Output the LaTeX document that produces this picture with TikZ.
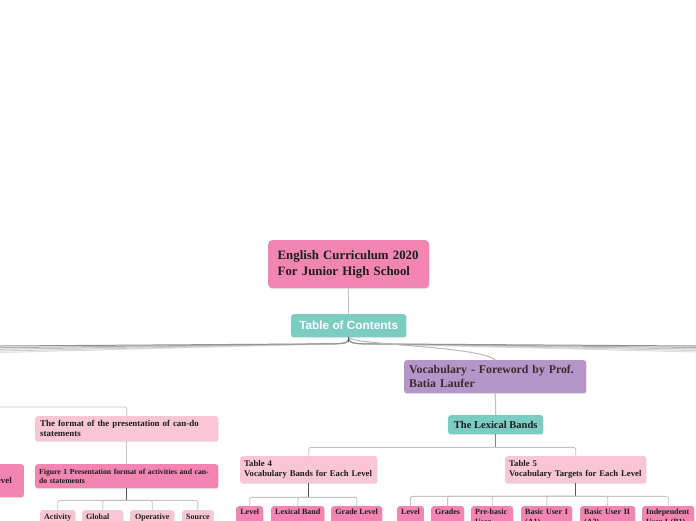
\documentclass[tikz,border=0pt]{standalone}
\usepackage{fontspec}
\setmainfont{Liberation Serif}
\newfontfamily\tocfont{Liberation Sans}
\usetikzlibrary{shadows}
\definecolor{dpink}{RGB}{243,134,177}
\definecolor{lpink}{RGB}{249,198,211}
\definecolor{tealc}{RGB}{122,205,192}
\definecolor{purp}{RGB}{180,151,200}
\definecolor{vtext}{RGB}{64,38,46}
\definecolor{lgray}{RGB}{196,196,196}
\definecolor{dgray}{RGB}{85,85,85}
\definecolor{txt}{RGB}{28,28,28}
\tikzset{
  box/.style={anchor=north west, rounded corners=2.5pt, inner ysep=0pt, inner xsep=5pt,
    align=left, text=txt, font=\bfseries,
    drop shadow={shadow xshift=0.3pt, shadow yshift=-1pt, opacity=0.18}},
  kid/.style={box, inner xsep=4pt, inner ysep=3pt, text depth=16pt,
    font=\fontsize{8}{9.5}\selectfont\bfseries},
  fkid/.style={kid, inner ysep=4pt, fill=lpink},
  tkid/.style={kid, fill=dpink},
  conn/.style={draw=lgray, line width=0.9pt, rounded corners=1.5pt},
  stem/.style={draw=dgray, line width=1.3pt},
  fan/.style={line width=1pt}
}
\begin{document}
\begin{tikzpicture}[x=1pt,y=-1pt]
\useasboundingbox (0,0) rectangle (696,520);
\clip (0,0) rectangle (696,520);
\fill[white] (0,0) rectangle (696,520);

% free ends
\coordinate (L1) at (0,352.5);
\coordinate (L2) at (0,351);
\coordinate (L3) at (0,349.3);
\coordinate (L4) at (0,347.7);
\coordinate (L5) at (0,346);
\coordinate (R1) at (696,352);
\coordinate (R2) at (696,350.5);
\coordinate (R3) at (696,349);
\coordinate (R4) at (696,347.5);
\coordinate (R5) at (696,346);
\coordinate (Lf) at (0,407);

% nodes
\node[box, fill=dpink, inner xsep=9.5pt, text width=142pt, minimum height=48pt,
  rounded corners=4pt, font=\fontsize{12.8}{16}\selectfont\bfseries] (root) at (268,240)
  {English Curriculum 2020\\For Junior High School};
\node[box, fill=tealc, align=center, minimum width=115pt, minimum height=23pt, text=white,
  font=\tocfont\fontsize{11.8}{13}\selectfont\bfseries] (toc) at (291,314) {Table of Contents};
\node[box, fill=purp, text=vtext, text width=172pt, minimum height=33pt,
  font=\fontsize{11.8}{14}\selectfont\bfseries] (voc) at (404,360)
  {Vocabulary - Foreword by Prof.\\Batia Laufer};
\node[box, fill=tealc, align=center, minimum width=95pt, minimum height=19pt,
  font=\fontsize{10.5}{12}\selectfont\bfseries] (lex) at (448,415) {The Lexical Bands};
\node[box, fill=lpink, inner xsep=4pt, text width=129pt, minimum height=27pt,
  font=\fontsize{8.7}{10}\selectfont\bfseries] (t4) at (240,456)
  {Table 4\\Vocabulary Bands for Each Level};
\node[box, fill=lpink, inner xsep=4pt, text width=133pt, minimum height=27pt,
  font=\fontsize{8.7}{10}\selectfont\bfseries] (t5) at (505,456)
  {Table 5\\Vocabulary Targets for Each Level};
\node[box, fill=lpink, text width=173pt, minimum height=25pt,
  font=\fontsize{8.9}{10}\selectfont\bfseries] (fmt) at (35,416)
  {The format of the presentation of can-do\\statements};
\node[box, fill=dpink, inner xsep=4pt, text width=175pt, minimum height=24pt,
  font=\fontsize{7.7}{9}\selectfont\bfseries] (fig) at (35,464)
  {\mbox{Figure 1 Presentation format of activities and can-}\\do statements};
\node[box, fill=dpink, anchor=north east, minimum height=33pt, inner xsep=12pt,
  font=\fontsize{8.9}{10}\selectfont\bfseries] (lvl) at (24,464) {Level};

% Table 4 children
\node[tkid, align=center, minimum width=27pt] (k41) at (236,506) {Level};
\node[tkid, align=center, minimum width=53pt] (k42) at (271,506) {Lexical Band};
\node[tkid, align=center, minimum width=51pt] (k43) at (331,506) {Grade Level};
% Table 5 children
\node[tkid, align=center, minimum width=26pt] (k51) at (397,506) {Level};
\node[tkid, align=center, minimum width=32pt] (k52) at (431,506) {Grades};
\node[tkid, text width=34pt] (k53) at (471,506) {Pre-basic User (Pre-A1)};
\node[tkid, text width=43pt] (k54) at (521,506) {Basic User I (A1)};
\node[tkid, text width=47pt] (k55) at (580,506) {Basic User II (A2)};
\node[tkid, text width=44pt] (k56) at (642,506) {Independent User I (B1)};
% Figure 1 children
\node[fkid, align=center, minimum width=35pt] (f1) at (40,510) {Activity};
\node[fkid, text width=33pt] (f2) at (82,510) {Global};
\node[fkid, align=center, minimum width=44pt] (f3) at (130,510) {Operative};
\node[fkid, align=center, minimum width=31pt] (f4) at (182,510) {Source};

% connectors
\draw[draw=lgray, line width=1.4pt] (root.south) -- (toc.north);
\draw[fan, draw=gray!25] (toc.south) .. controls (349,342) and (347,343.5) .. (335,343.8) -- (L1);
\draw[fan, draw=gray!35] (toc.south) .. controls (349,342) and (347,343.5) .. (335,343.8) -- (L2);
\draw[fan, draw=gray!45] (toc.south) .. controls (349,342) and (347,343.5) .. (335,343.8) -- (L3);
\draw[fan, draw=gray!60] (toc.south) .. controls (349,342) and (347,343.5) .. (335,343.8) -- (L4);
\draw[fan, draw=gray!85] (toc.south) .. controls (349,342) and (347,343.5) .. (335,343.8) -- (L5);
\draw[fan, draw=gray!25] (toc.south) .. controls (349,342) and (351,343.5) .. (363,343.8) -- (R1);
\draw[fan, draw=gray!35] (toc.south) .. controls (349,342) and (351,343.5) .. (363,343.8) -- (R2);
\draw[fan, draw=gray!45] (toc.south) .. controls (349,342) and (351,343.5) .. (363,343.8) -- (R3);
\draw[fan, draw=gray!60] (toc.south) .. controls (349,342) and (351,343.5) .. (363,343.8) -- (R4);
\draw[fan, draw=gray!85] (toc.south) .. controls (349,342) and (351,343.5) .. (363,343.8) -- (R5);
\draw[fan, draw=gray!55] (toc.south) .. controls (352,345) and (480,346) .. (voc.north);
\draw[stem] (toc.south) -- ++(0,5);

\draw[conn, line width=1.2pt] (voc.south) -- (lex.north);
\draw[stem, draw=gray] (lex.south) -- ++(0,13) coordinate (lexbar);
\draw[conn] (lexbar) -| (t4.north);
\draw[conn] (lexbar) -| (t5.north);

\draw[stem] (t4.south) -- ++(0,14) coordinate (t4bar);
\foreach \k in {k41,k42,k43} \draw[conn] (t4bar) -| (\k.north);
\draw[stem] (t5.south) -- ++(0,13) coordinate (t5bar);
\foreach \k in {k51,k52,k53,k54,k55,k56} \draw[conn] (t5bar) -| (\k.north);

\draw[conn] (Lf) -| (fmt.north);
\draw[conn] (fmt.south) -- (fig.north);
\draw[stem] (fig.south) -- ++(0,12) coordinate (figbar);
\foreach \k in {f1,f2,f3,f4} \draw[conn] (figbar) -| (\k.north);
\end{tikzpicture}
\end{document}
